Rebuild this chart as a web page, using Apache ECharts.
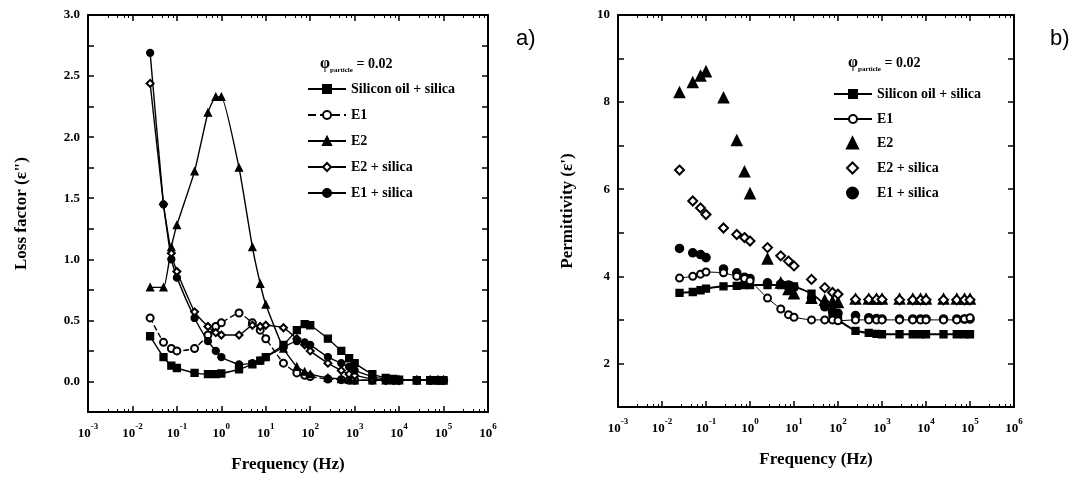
<!DOCTYPE html>
<html>
<head>
<meta charset="utf-8">
<script src="https://cdn.jsdelivr.net/npm/echarts@6/dist/echarts.min.js"></script>
<style>
  html, body { margin: 0; padding: 0; background: #fff; }
  #chart { width: 1082px; height: 484px; }
</style>
</head>
<body>
<div id="chart"></div>
<script>
// measuring frequencies (Hz), shared by both panels
const freq = [0.025, 0.05, 0.075, 0.1, 0.25, 0.5, 0.75, 1, 2.5, 5, 7.5, 10, 25, 50, 75, 100,
  250, 500, 750, 1000, 2500, 5000, 7500, 10000, 25000, 50000, 75000, 100000]

// a) loss factor
const lossSilicon = [0.37, 0.2, 0.13, 0.11, 0.07, 0.06, 0.06, 0.065, 0.1, 0.14, 0.17, 0.2, 0.3, 0.42, 0.47, 0.46,
  0.35, 0.25, 0.19, 0.15, 0.06, 0.03, 0.02, 0.015, 0.01, 0.01, 0.01, 0.01]
const lossE1 = [0.52, 0.32, 0.27, 0.25, 0.27, 0.38, 0.45, 0.48, 0.56, 0.48, 0.42, 0.35, 0.15, 0.07, 0.05, 0.04,
  0.02, 0.015, 0.01, 0.01, 0.01, 0.01, 0.01, 0.01, 0.01, 0.01, 0.01, 0.01]
const lossE2 = [0.77, 0.77, 1.1, 1.28, 1.72, 2.2, 2.33, 2.33, 1.75, 1.1, 0.8, 0.63, 0.27, 0.12, 0.08, 0.06,
  0.03, 0.02, 0.015, 0.01, 0.01, 0.01, 0.01, 0.01, 0.01, 0.01, 0.01, 0.01]
const lossE2Silica = [2.44, 1.45, 1.05, 0.9, 0.57, 0.45, 0.4, 0.38, 0.38, 0.46, 0.45, 0.46, 0.44, 0.35, 0.3, 0.25,
  0.15, 0.09, 0.06, 0.05, 0.02, 0.01, 0.01, 0.01, 0.01, 0.01, 0.01, 0.01]
const lossE1Silica = [2.69, 1.45, 1.0, 0.85, 0.52, 0.33, 0.25, 0.2, 0.14, 0.15, 0.17, 0.2, 0.28, 0.33, 0.32, 0.3,
  0.2, 0.15, 0.12, 0.09, 0.04, 0.02, 0.015, 0.01, 0.01, 0.01, 0.01, 0.01]

// b) permittivity
const permSilicon = [3.62, 3.64, 3.68, 3.72, 3.77, 3.78, 3.8, 3.8, 3.8, 3.8, 3.79, 3.77, 3.6, 3.35, 3.15, 3.0,
  2.75, 2.7, 2.68, 2.67, 2.67, 2.67, 2.67, 2.67, 2.67, 2.67, 2.67, 2.67]
const permE1 = [3.96, 4.0, 4.05, 4.1, 4.08, 4.0, 3.95, 3.9, 3.5, 3.25, 3.12, 3.06, 3.0, 3.0, 3.0, 2.98,
  3.0, 3.0, 3.0, 3.0, 3.0, 3.0, 3.0, 3.0, 3.0, 3.0, 3.02, 3.05]
const permE2 = [8.22, 8.45, 8.6, 8.7, 8.1, 7.12, 6.4, 5.9, 4.4, 3.85, 3.7, 3.6, 3.5, 3.45, 3.42, 3.4,
  3.48, 3.48, 3.48, 3.48, 3.48, 3.48, 3.48, 3.48, 3.48, 3.48, 3.48, 3.48]
const permE2Silica = [6.44, 5.73, 5.57, 5.42, 5.11, 4.96, 4.89, 4.81, 4.66, 4.47, 4.35, 4.24, 3.93, 3.74, 3.63, 3.59,
  3.47, 3.47, 3.47, 3.47, 3.46, 3.46, 3.46, 3.46, 3.46, 3.46, 3.46, 3.46]
const permE1Silica = [4.64, 4.54, 4.5, 4.43, 4.17, 4.08, 3.98, 3.95, 3.85, 3.82, 3.8, 3.75, 3.5, 3.3, 3.2, 3.15,
  3.1, 3.05, 3.03, 3.02, 3.02, 3.02, 3.02, 3.02, 3.02, 3.02, 3.02, 3.02]

const names = ['Silicon oil + silica', 'E1', 'E2', 'E2 + silica', 'E1 + silica']

const chart = echarts.init(document.getElementById('chart'))
const serif = 'Liberation Serif'
const black = '#000'

function pairs(ys) {
  return freq.map((f, i) => [f, ys[i]]).filter(p => p[1] != null)
}

function logAxis(grid, top) {
  return {
    type: 'log', logBase: 10, gridIndex: grid, min: 0.001, max: 1e6, splitNumber: 9,
    position: top ? 'top' : 'bottom',
    axisLine: { onZero: false, lineStyle: { color: black, width: 2 } },
    axisTick: { show: true, inside: true, length: 6, lineStyle: { color: black, width: 1.5 } },
    minorTick: { show: true, splitNumber: 5, length: 3, lineStyle: { color: black, width: 1 } },
    splitLine: { show: false },
    axisLabel: top ? { show: false } : {
      margin: 10, color: black, fontFamily: serif, fontWeight: 'bold',
      formatter: v => '{b|10}{s|' + Math.round(Math.log10(v)) + '}',
      rich: {
        b: { fontSize: 13, fontFamily: serif, fontWeight: 'bold', lineHeight: 18, verticalAlign: 'bottom' },
        s: { fontSize: 9, fontFamily: serif, fontWeight: 'bold', lineHeight: 18, verticalAlign: 'top' }
      }
    },
    name: top ? '' : 'Frequency (Hz)',
    nameLocation: 'middle', nameGap: 44,
    nameTextStyle: { color: black, fontFamily: serif, fontWeight: 'bold', fontSize: 17 }
  }
}

function valAxis(grid, right, min, max, step, every, digits, name, gap) {
  return {
    type: 'value', gridIndex: grid, min: min, max: max, interval: step,
    position: right ? 'right' : 'left',
    axisLine: { show: true, onZero: false, lineStyle: { color: black, width: 2 } },
    axisTick: { show: true, inside: true, length: 6, lineStyle: { color: black, width: 1.5 } },
    splitLine: { show: false },
    axisLabel: right ? { show: false } : {
      margin: 8, color: black, fontFamily: serif, fontWeight: 'bold', fontSize: 13,
      formatter: v => Math.abs(v / every - Math.round(v / every)) < 1e-6 ? v.toFixed(digits) : ''
    },
    name: right ? '' : name,
    nameLocation: 'middle', nameGap: gap,
    nameTextStyle: { color: black, fontFamily: serif, fontWeight: 'bold', fontSize: 17 }
  }
}

function lineSeries(name, data, symbol, x, y, dashed) {
  return {
    name: name, type: 'line', xAxisIndex: x, yAxisIndex: y, data: pairs(data),
    symbol: symbol, symbolSize: 7, smooth: 0.15,
    itemStyle: { color: black, borderColor: black, borderWidth: 1.3, opacity: 1 },
    lineStyle: { color: black, width: 1.4, type: dashed ? 'dashed' : 'solid' },
    emphasis: { disabled: true }, animation: false
  }
}

function dotSeries(name, data, symbol, size) {
  return {
    name: name, type: 'scatter', xAxisIndex: 2, yAxisIndex: 2, data: pairs(data),
    symbol: symbol, symbolSize: size,
    itemStyle: { color: black, borderColor: black, borderWidth: 1.6, opacity: 1 },
    emphasis: { disabled: true }, animation: false
  }
}

const legendText = { color: black, fontFamily: serif, fontWeight: 'bold', fontSize: 14 }
const phiRich = {
  p: { fontSize: 16, fontFamily: serif, fontWeight: 'bold', lineHeight: 20, verticalAlign: 'middle' },
  sub: { fontSize: 7, fontFamily: serif, fontWeight: 'bold', lineHeight: 20, verticalAlign: 'bottom' },
  t: { fontSize: 14, fontFamily: serif, fontWeight: 'bold', lineHeight: 20, verticalAlign: 'middle' }
}

chart.setOption({
  animation: false,
  grid: [
    { left: 88, top: 15, width: 400, height: 397 },
    { left: 618, top: 15, width: 396, height: 392 }
  ],
  xAxis: [logAxis(0, false), logAxis(0, true), logAxis(1, false), logAxis(1, true)],
  yAxis: [
    valAxis(0, false, -0.25, 3, 0.25, 0.5, 1, 'Loss factor (ε")', 58),
    valAxis(0, true, -0.25, 3, 0.25, 0.5, 1),
    valAxis(1, false, 1, 10, 1, 2, 0, "Permittivity (ε')", 42),
    valAxis(1, true, 1, 10, 1, 2, 0)
  ],
  legend: [
    {
      orient: 'vertical', left: 302, top: 77, itemWidth: 38, itemHeight: 10, itemGap: 12,
      textStyle: legendText, data: names, selectedMode: false
    },
    {
      orient: 'vertical', left: 828, top: 82, itemWidth: 38, itemHeight: 10, itemGap: 11,
      textStyle: legendText, selectedMode: false,
      data: ['b:' + names[0], 'b:' + names[1]],
      formatter: n => n.replace('b:', '')
    },
    {
      orient: 'vertical', left: 841, top: 131, itemWidth: 11, itemHeight: 11, itemGap: 11,
      textStyle: Object.assign({ padding: [0, 0, 0, 14] }, legendText), selectedMode: false,
      data: ['b:' + names[2], 'b:' + names[3], 'b:' + names[4]],
      formatter: n => n.replace('b:', '')
    }
  ],
  graphic: [
    { type: 'text', left: 320, top: 56, style: { text: '{p|φ}{sub|particle}{t| = 0.02}', rich: phiRich, fill: black } },
    { type: 'text', left: 848, top: 55, style: { text: '{p|φ}{sub|particle}{t| = 0.02}', rich: phiRich, fill: black } },
    { type: 'text', left: 516, top: 28, style: { text: 'a)', fontFamily: 'Liberation Sans', fontSize: 22, fill: black } },
    { type: 'text', left: 1050, top: 28, style: { text: 'b)', fontFamily: 'Liberation Sans', fontSize: 22, fill: black } }
  ],
  series: [
    lineSeries(names[0], lossSilicon, 'rect', 0, 0),
    lineSeries(names[1], lossE1, 'emptyCircle', 0, 0, true),
    lineSeries(names[2], lossE2, 'triangle', 0, 0),
    lineSeries(names[3], lossE2Silica, 'emptyDiamond', 0, 0),
    lineSeries(names[4], lossE1Silica, 'circle', 0, 0),
    Object.assign(lineSeries('b:' + names[0], permSilicon, 'rect', 2, 2), { lineStyle: { color: black, width: 2 } }),
    Object.assign(lineSeries('b:' + names[1], permE1, 'emptyCircle', 2, 2), { lineStyle: { color: black, width: 1 } }),
    dotSeries('b:' + names[2], permE2, 'triangle', 10),
    dotSeries('b:' + names[3], permE2Silica, 'emptyDiamond', 9),
    dotSeries('b:' + names[4], permE1Silica, 'circle', 8)
  ]
})
</script>
</body>
</html>
